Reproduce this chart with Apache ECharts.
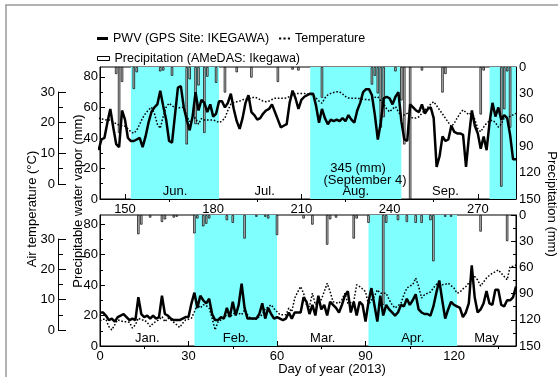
<!DOCTYPE html>
<html>
<head>
<meta charset="utf-8">
<script src="https://cdn.jsdelivr.net/npm/echarts@6/dist/echarts.min.js"></script>
<style>
  html, body { margin: 0; padding: 0; background: #fff; }
  #chart { width: 558px; height: 377px; }
</style>
</head>
<body>
<div id="chart"></div>
<script>
// * PWV / temperature / precipitation, Ikegawa 2013

// ? data (daily values)
const topStartDay = 141
const bottomStartDay = 0

const pwvTop = [
  32,39,40,50,59,47,36,34,58,52, 40,38,38,39,40,34,41,50,57,60,
  62,71,61,52,38,37,55,73,74,60, 52,45,54,70,58,65,63,57,62,54,
  56,64,64,60,63,69,59,51,46,53, 63,68,57,55,52,53,56,58,59,
  62,57,52,47,48,49,63,71,66,59, 65,67,68,69,69,61,50,59,53,49,
  52,51,52,51,53,51,55,52,50,58, 63,70,72,72,68,55,39,50,66,67,
  66,62,67,70,51,39,38,62,60,58, 57,62,56,59,60,53,21,28,41,38,
  39,48,44,43,43,42,21,41,58,48, 43,33,41,32,50,63,54,60,52,55,
  53,42,26,26
]
const tempTop = [
  21.4,21.2,21,20.8,20.8,20.2,19.6,19.2,19,18.8, 18,17,16.5,17.5,19.5,21.5,23,24.1,25,23,
  19.5,18.1,22,25,26.3,25.5,24.8,24.7,25,25, 22,20.3,21.5,21.5,19.5,21.3,20.8,20.8,20.8,20.8,
  20.5,20,20.5,21.5,24,26,26.5,26.8,27,27.4, 27.6,27.8,28,28.3,28,27.4,27,26.8,27,27.5,
  27.9,27.9,27.9,27.9,28,28.5,29,29.5,29.5,29.5, 29.5,29.3,29.2,29,28,27,26.3,28,29,29.5,
  29.8,30,30,29.3,28.5,28,27.9,27.9,27.9,27.8, 27.6,27.5,27.4,27.8,28.2,28.4,27,26,24.5,23.5,
  24.5,25.2,23.5,22,22.5,23,22,21.4,21.5,21.9, 23,24.1,25,26,26.8,25.5,24.1,22.8,21.4,20,
  18.7,19.8,21.5,23,24.1,23.3,22.5,23.5,21,18, 17,18.5,19.8,20.5,20.8,20,18.5,19.5,21.5,21.9,
  22,22.5,23
]
const pwvBottom = [
  22,22,20,17,18,16,19,20,21,19, 17,18,17,32,21,19,20,18,20,18,
  19,33,21,20,18,17,17,17,18,19, 19,28,35,25,33,30,28,31,21,17,
  17,19,18,25,19,29,20,27,41,25, 18,18,18,18,21,28,18,25,21,18,
  19,18,17,18,22,18,22,22,22,32, 29,21,27,20,33,24,27,20,29,27,
  25,22,27,33,36,22,29,20,29,27, 16,29,38,27,16,33,20,27,24,22,
  20,22,27,26,31,27,30,34,24,22, 21,21,20,26,35,43,30,18,24,29,
  27,26,25,19,22,28,53,32,22,24, 28,36,28,27,37,37,27,26,30,30,
  32,39
]
const tempBottom = [
  3,3.5,3.5,1.1,0,1.7,3.3,3,2.7,2.7, 2.5,0.6,1.7,3.9,3.3,3.3,2.5,1.1,2.2,2.8,
  3.3,4.4,2.7,3.9,3.3,2.5,1.7,0.8,2.2,3.3, 3.5,3.9,6,8.3,7.2,8.3,8,7.2,3.9,0,
  2.7,3.3,4,5,4.4,5,6,5.5,5,6.6, 5,3.9,3.5,3.5,4.4,5,7,7.5,8.3,7,
  6,5,5,5,7.2,6,10.5,12.5,14.3,12.1, 8.3,7.7,12.1,8.3,9.3,10,12.6,15.4,12.6,9.3,
  9,8.8,10,12.1,8.8,9,9.3,14.9,14.3,13.5, 12.6,8.3,9.9,11,13.2,12.1,12.1,12.1,10,8.3,
  7.2,8,8.8,11.6,13.8,14.5,14.9,17.1,14.3,10.5, 11.6,12.1,12.5,13.8,15,15.4,14.9,15,15.4,14.6,
  13.8,12.1,12.5,13.5,14.3,15.5,16.5,17.6,16.5,14.5, 15.8,17.1,18,18.7,19.2,19.8,18.7,17.6,16.5,20.9,
  21,21.4
]

// precipitation: day of year / daily total (mm)
const rainTopDay = [147,148,149,153,154,162,163,166,171,172,174,175,177,178,181,184,188,193,202,207,209,217,234,235,236,237,238,242,244,245,247,251,258,259,271,272,278,279,280,281]
const rainTopMM  = [8,75,17,25,6,5,4,10,88,14,65,21,75,11,18,29,6,12,17,3,4,35,20,10,30,69,57,5,38,88,345,4,29,8,54,4,136,48,5,69]
const rainBottomDay = [13,14,17,21,22,25,26,32,33,35,36,37,43,45,49,53,56,57,60,69,72,77,78,80,86,87,91,96,97,101,104,107,109,112,113,117,119,129,138]
const rainBottomMM  = [22,11,3,8,5,3,2,21,4,13,10,4,6,9,27,2,2,4,23,4,11,34,5,3,27,4,9,103,9,6,8,9,9,6,53,2,2,19,30]

// months (start day, end day, label, shaded)
const monthsTop = [[152,182,'Jun.',true],[182,213,'Jul.',false],[213,244,'Aug.',true],[244,274,'Sep.',false],[274,283,'',true]]
const monthsBottom = [[0,32,'Jan.',false],[32,60,'Feb.',true],[60,91,'Mar.',false],[91,121,'Apr.',true],[121,141,'May',false]]

const ticksTop = [150,180,210,240,270]
const minorTop = [165,195,225,255]
const ticksBottom = [0,30,60,90,120]
const minorBottom = [15,45,75,105,135]
const pwvLabels = [0,20,40,60,80]
const pwvMinor = [10,30,50,70]

// ? helpers
const FONT = 'Liberation Sans, Arial, sans-serif'
const toPairs = (start, vals) => vals.map((v, i) => [start + i, v])
const zip = (a, b) => a.map((d, i) => [d, b[i]])
const monthAreas = list => list.map(m => [
  { xAxis: m[0], name: m[2], itemStyle: { color: m[3] ? '#80ffff' : 'rgba(0,0,0,0)' } },
  { xAxis: m[1] }
])

const xMajor = (grid, min, max, ticks) => ({
  gridIndex: grid, type: 'value', min, max,
  axisLine: { show: true, lineStyle: { color: '#000', width: 1 } },
  axisTick: { show: true, inside: true, length: 5, customValues: ticks, lineStyle: { color: '#000' } },
  axisLabel: { customValues: ticks, color: '#000', fontSize: 13, fontFamily: FONT, margin: 4 },
  splitLine: { show: false }
})
const xMinor = (grid, min, max, ticks) => ({
  gridIndex: grid, type: 'value', min, max,
  axisLine: { show: false },
  axisTick: { show: true, inside: true, length: 3, customValues: ticks, lineStyle: { color: '#000' } },
  axisLabel: { show: false },
  splitLine: { show: false }
})
const pwvAxis = (grid, max) => ({
  gridIndex: grid, type: 'value', position: 'left', min: 0, max,
  axisLine: { show: true, lineStyle: { color: '#000' } },
  axisTick: { show: true, inside: true, length: 5, customValues: pwvLabels, lineStyle: { color: '#000' } },
  axisLabel: { customValues: pwvLabels, color: '#000', fontSize: 13, fontFamily: FONT, margin: 2 },
  splitLine: { show: false }
})
const pwvMinorAxis = (grid, max) => ({
  gridIndex: grid, type: 'value', position: 'left', min: 0, max,
  axisLine: { show: false },
  axisTick: { show: true, inside: true, length: 3, customValues: pwvMinor, lineStyle: { color: '#000' } },
  axisLabel: { show: false },
  splitLine: { show: false }
})
const hiddenTemp = (grid, min, max) => ({ gridIndex: grid, type: 'value', min, max, show: false, splitLine: { show: false } })
const rainAxis = grid => ({
  gridIndex: grid, type: 'value', position: 'right', inverse: true, min: 0, max: 150, interval: 30,
  axisLine: { show: true, lineStyle: { color: '#000' } },
  axisTick: { show: true, inside: true, length: 5, lineStyle: { color: '#000' } },
  minorTick: { show: true, splitNumber: 2, length: 3, lineStyle: { color: '#000' } },
  axisLabel: { color: '#000', fontSize: 13, fontFamily: FONT, margin: 3 },
  splitLine: { show: false }
})
const tempAxis = grid => ({
  gridIndex: grid, type: 'value', position: 'left', min: 0, max: 30, interval: 10,
  axisLine: { show: true, lineStyle: { color: '#000' } },
  axisTick: { show: true, inside: true, length: 8, lineStyle: { color: '#000' } },
  minorTick: { show: true, splitNumber: 2, length: 5, lineStyle: { color: '#000' } },
  axisLabel: { color: '#000', fontSize: 13, fontFamily: FONT, margin: 3 },
  splitLine: { show: false }
})

const PWV = 'PWV (GPS Site: IKEGAWA)'
const TEMP = 'Temperature'
const RAIN = 'Precipitation (AMeDAS: Ikegawa)'

const rainSeries = (x, y, data) => ({
  name: RAIN, type: 'bar', xAxisIndex: x, yAxisIndex: y, data, barWidth: 2.4, z: 2,
  itemStyle: { color: '#c4c4c4', borderColor: '#000', borderWidth: 0.7 }
})
const tempSeries = (x, y, data) => ({
  name: TEMP, type: 'line', xAxisIndex: x, yAxisIndex: y, data, symbol: 'none', z: 3,
  lineStyle: { color: '#000', width: 1.5, type: [1.6, 1.8] }, itemStyle: { color: '#000' }
})
const pwvSeries = (x, y, data) => ({
  name: PWV, type: 'line', xAxisIndex: x, yAxisIndex: y, data, symbol: 'none', z: 4,
  lineStyle: { color: '#000', width: 2.5 }, itemStyle: { color: '#000' }
})
const shadeSeries = (x, y, months) => ({
  type: 'line', xAxisIndex: x, yAxisIndex: y, data: [], z: 1, silent: true,
  markArea: {
    silent: true,
    label: { show: true, position: 'insideBottom', distance: 1, formatter: '{b}', color: '#000', fontSize: 13, fontFamily: FONT },
    data: monthAreas(months)
  }
})

const textG = (x, y, text, rot) => ({
  type: 'text', x, y, rotation: rot || 0, z: 100,
  style: { text, fill: '#000', font: '13px ' + FONT, align: 'center', verticalAlign: 'middle' }
})

// ? option
const chart = echarts.init(document.getElementById('chart'))
const option = {
  animation: false,
  backgroundColor: '#fff',
  grid: [
    { left: 100, top: 67, width: 416, height: 132, show: true, borderColor: '#000', borderWidth: 1 },
    { left: 100, top: 215, width: 416, height: 131, show: true, borderColor: '#000', borderWidth: 1 },
    { left: 58, top: 92, width: 1, height: 92 },
    { left: 58, top: 239, width: 1, height: 91 }
  ],
  xAxis: [
    xMajor(0, 141.5, 283, ticksTop),
    xMinor(0, 141.5, 283, minorTop),
    xMajor(1, 0, 141, ticksBottom),
    xMinor(1, 0, 141, minorBottom),
    { gridIndex: 2, type: 'value', show: false },
    { gridIndex: 3, type: 'value', show: false }
  ],
  yAxis: [
    pwvAxis(0, 86.5), pwvMinorAxis(0, 86.5), hiddenTemp(0, -4.9, 38.1), rainAxis(0),
    pwvAxis(1, 86), pwvMinorAxis(1, 86), hiddenTemp(1, -5.3, 37.9), rainAxis(1),
    tempAxis(2), tempAxis(3)
  ],
  legend: [
    {
      left: 97, top: 32, padding: 0, itemGap: 10, itemWidth: 11, itemHeight: 3,
      textStyle: { color: '#000', fontSize: 12.5, fontFamily: FONT },
      data: [
        { name: PWV, icon: 'rect', itemStyle: { color: '#000', borderWidth: 0 } },
        { name: TEMP, icon: 'path://M0,0h2v2h-2zM4,0h2v2h-2zM8,0h2v2h-2z', itemStyle: { color: '#000', borderWidth: 0 } }
      ]
    },
    {
      left: 97, top: 52, padding: 0, itemWidth: 12, itemHeight: 4,
      textStyle: { color: '#000', fontSize: 12.5, fontFamily: FONT },
      data: [{ name: RAIN, icon: 'rect', itemStyle: { color: '#fff', borderColor: '#000', borderWidth: 1 } }]
    }
  ],
  graphic: [
    { type: 'rect', shape: { x: 6, y: 5, width: 600, height: 400 }, style: { fill: 'none', stroke: '#999', lineWidth: 1.5 }, z: -10 },
    textG(32, 209, 'Air temperature (°C)', Math.PI / 2),
    textG(78, 201, 'Precipitable water vapor (mm)', Math.PI / 2),
    textG(552, 204, 'Precipitation (mm)', -Math.PI / 2),
    textG(332, 369, 'Day of year (2013)'),
    textG(358, 168, '345 (mm)'),
    textG(365, 180, '(September 4)')
  ],
  series: [
    shadeSeries(0, 0, monthsTop),
    shadeSeries(2, 4, monthsBottom),
    rainSeries(0, 3, zip(rainTopDay, rainTopMM)),
    rainSeries(2, 7, zip(rainBottomDay, rainBottomMM)),
    tempSeries(0, 2, toPairs(topStartDay, tempTop)),
    tempSeries(2, 6, toPairs(bottomStartDay, tempBottom)),
    pwvSeries(0, 0, toPairs(topStartDay, pwvTop)),
    pwvSeries(2, 4, toPairs(bottomStartDay, pwvBottom))
  ]
}
chart.setOption(option)
</script>
</body>
</html>
